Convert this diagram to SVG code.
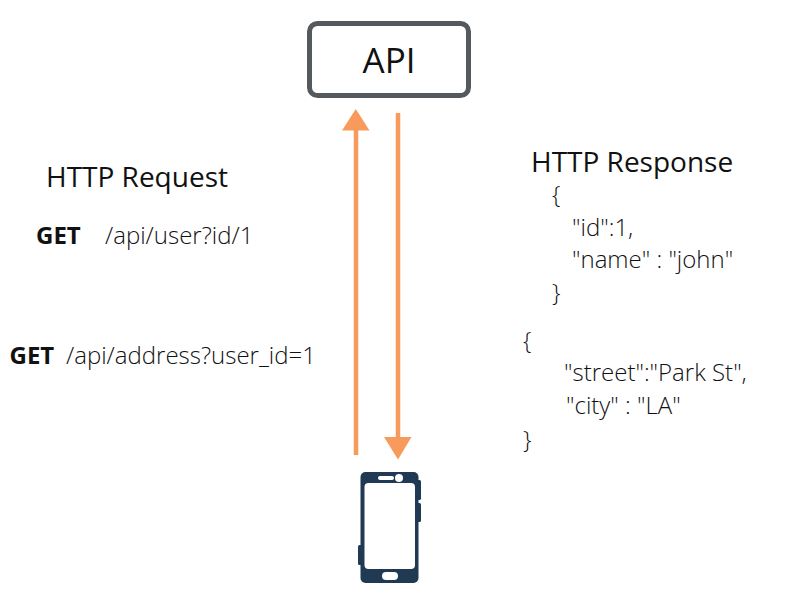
<svg xmlns="http://www.w3.org/2000/svg" width="800" height="600" viewBox="0 0 800 600">
<style>
text{font-family:"Open Sans","Noto Sans",sans-serif;fill:#111}
.h{font-size:28px}
.t{font-size:24px;font-weight:300}
.b{font-size:24px;font-weight:700}
.ln{stroke:#f79a5c;stroke-width:4.5;fill:none}
.ah{fill:#f79a5c}
.ph{fill:#1f3a52}
.w{fill:#fff}
</style>
<rect width="800" height="600" fill="#fff"/>
<g id="api"><rect x="309.5" y="23.5" width="159" height="72" rx="8" fill="#fff" stroke="#54595e" stroke-width="5"/><text x="389" y="73" font-size="35" text-anchor="middle">API</text></g>
<g id="connectors">
<line class="ln" x1="356" y1="455" x2="356" y2="128"/><polygon class="ah" points="342,130.500 355.800,109 369.500,130.500"/>
<line class="ln" x1="398" y1="113" x2="398" y2="440"/><polygon class="ah" points="384,437 411.500,437 398,459.500"/>
</g>
<g id="phone">
<rect class="ph" x="360.500" y="472" width="58" height="111" rx="5"/>
<rect class="ph" x="358" y="545" width="5" height="20" rx="1.500"/>
<rect class="ph" x="416" y="480" width="5" height="20" rx="1.500"/>
<rect class="ph" x="416" y="503" width="5" height="19" rx="1.500"/>
<rect class="w" x="364.500" y="483" width="50.500" height="86" rx="4"/>
<circle class="w" cx="399" cy="478" r="4"/>
<rect class="w" x="378" y="476" width="16" height="4" rx="2"/>
<rect class="w" x="382" y="572" width="16" height="8" rx="4"/>
</g>
<g id="request">
<text class="h" x="46" y="187">HTTP Request</text>
<text class="b" x="36" y="244">GET</text><text class="t" x="105" y="244">/api/user?id/1</text>
<text class="b" x="9.500" y="364">GET</text><text class="t" x="66" y="364">/api/address?user_id=1</text>
</g>
<g id="response">
<text class="h" x="531" y="172">HTTP Response</text>
<text class="t" x="552" y="203">{</text>
<text class="t" x="572" y="236">"id":1,</text>
<text class="t" x="572" y="268">"name" : "john"</text>
<text class="t" x="552" y="301">}</text>
<text class="t" x="523" y="349">{</text>
<text class="t" x="564" y="381">"street":"Park St",</text>
<text class="t" x="566" y="414">"city" : "LA"</text>
<text class="t" x="523" y="448">}</text>
</g>
</svg>
